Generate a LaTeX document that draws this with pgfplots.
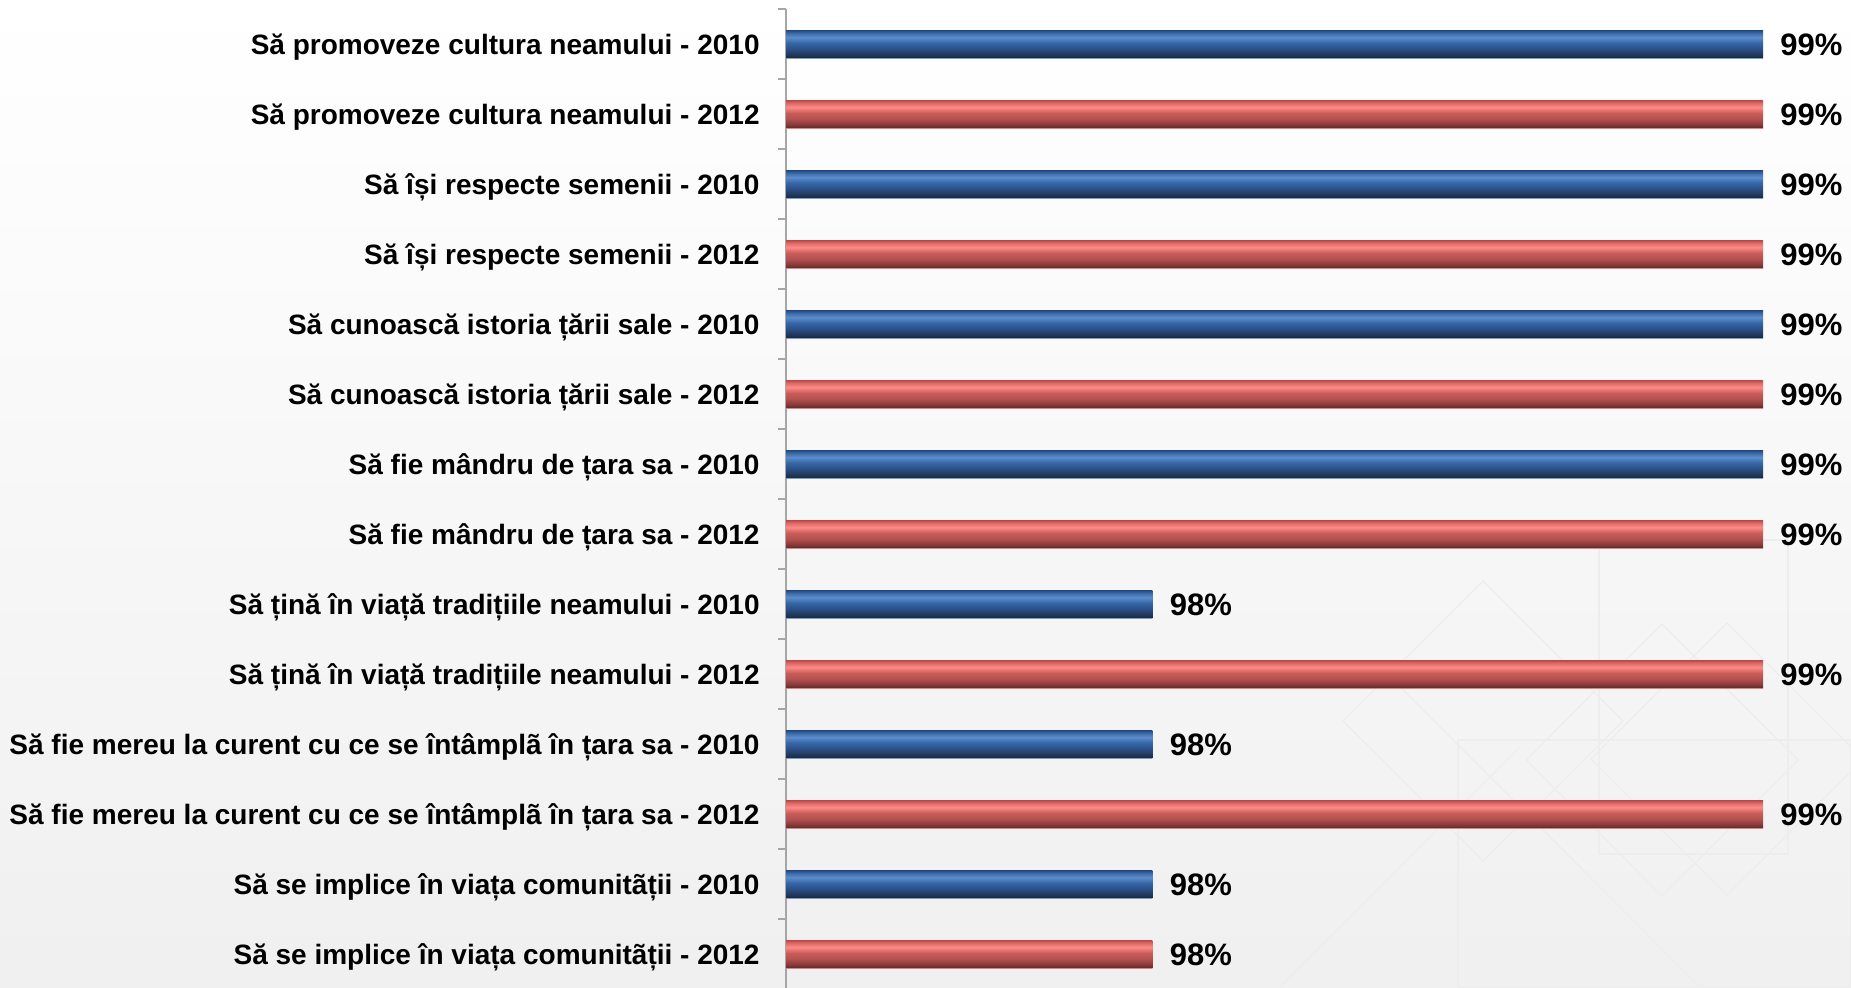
\documentclass[border=0pt]{standalone}
\usepackage{fontspec}
\setmainfont{Liberation Sans}
\usepackage{pgfplots}
\pgfplotsset{compat=1.18}

\definecolor{axisgray}{HTML}{A6A6A6}
% blue bar profile (bottom -> top)
\definecolor{bB0}{HTML}{7F9FCB}
\definecolor{bB1}{HTML}{1B2C48}
\definecolor{bB2}{HTML}{22395F}
\definecolor{bB3}{HTML}{2C5189}
\definecolor{bB4}{HTML}{3566A6}
\definecolor{bB5}{HTML}{5C8CCB}
\definecolor{bB6}{HTML}{3F6DAB}
\definecolor{bB7}{HTML}{20457C}
% red bar profile (bottom -> top)
\definecolor{rB0}{HTML}{D98A88}
\definecolor{rB1}{HTML}{6A2C2C}
\definecolor{rB2}{HTML}{8C3C3B}
\definecolor{rB3}{HTML}{B55250}
\definecolor{rB4}{HTML}{C95D5A}
\definecolor{rB5}{HTML}{FF8986}
\definecolor{rB6}{HTML}{E06E6B}
\definecolor{rB7}{HTML}{B84846}

\pgfdeclareverticalshading{barblue}{100bp}{color(0bp)=(bB0); color(25bp)=(bB0); color(26.5bp)=(bB1); color(32bp)=(bB2); color(42bp)=(bB3); color(52bp)=(bB4); color(62bp)=(bB5); color(69bp)=(bB6); color(75bp)=(bB7); color(100bp)=(bB7)}
\pgfdeclareverticalshading{barred}{100bp}{color(0bp)=(rB0); color(25bp)=(rB0); color(26.5bp)=(rB1); color(32bp)=(rB2); color(42bp)=(rB3); color(52bp)=(rB4); color(62bp)=(rB5); color(69bp)=(rB6); color(75bp)=(rB7); color(100bp)=(rB7)}

\pgfplotsset{
  bluebar/.style={shade, shading=barblue, draw=none, bar shift=0pt},
  redbar/.style={shade, shading=barred, draw=none, bar shift=0pt},
}

\begin{document}
\begin{tikzpicture}
\path[use as bounding box, top color=white, middle color=black!1, bottom color=black!6] (0,0) rectangle (925.5pt,493.5pt);
% faint background pattern
\begin{scope}[draw=black!7, line width=0.6pt]
\draw (741.5pt,203pt) -- (811.5pt,133pt) -- (741.5pt,63pt) -- (671.5pt,133pt) -- cycle;
\draw (831pt,181.5pt) -- (899pt,113.5pt) -- (831pt,45.5pt) -- (763pt,113.5pt) -- cycle;
\draw (863.5pt,182pt) -- (931.5pt,114pt) -- (863.5pt,46pt) -- (795.5pt,114pt) -- cycle;
\draw (700pt,150pt) -- (850pt,0pt);
\draw (640pt,0pt) -- (760pt,120pt);
\draw (729pt,0pt) rectangle (925.5pt,123.5pt);
\draw (799.5pt,66.5pt) rectangle (894pt,223.5pt);
\end{scope}
\begin{axis}[
  at={(393pt,489pt)}, anchor=north west,
  scale only axis, width=532.5pt, height=490pt,
  xmin=97.40, xmax=99.144,
  ymin=-0.5, ymax=13.5, y dir=reverse,
  axis x line=none,
  axis y line*=left,
  y axis line style={axisgray, line width=1pt, -},
  ytick={0,...,13},
  yticklabels={
    Să promoveze cultura neamului - 2010,
    Să promoveze cultura neamului - 2012,
    Să își respecte semenii - 2010,
    Să își respecte semenii - 2012,
    Să cunoască istoria țării sale - 2010,
    Să cunoască istoria țării sale - 2012,
    Să fie mândru de țara sa - 2010,
    Să fie mândru de țara sa - 2012,
    Să țină în viață tradițiile neamului - 2010,
    Să țină în viață tradițiile neamului - 2012,
    Să fie mereu la curent cu ce se întâmplã în țara sa - 2010,
    Să fie mereu la curent cu ce se întâmplã în țara sa - 2012,
    Să se implice în viața comunitãții - 2010,
    Să se implice în viața comunitãții - 2012},
  major tick length=0pt,
  minor ytick={-0.5,0.5,...,13.5},
  minor tick length=4pt,
  tick align=outside,
  minor y tick style={axisgray, line width=0.75pt},
  yticklabel style={font=\fontsize{14}{16}\selectfont\bfseries, inner sep=0pt, anchor=base east, xshift=-13pt, yshift=-5pt, text=black},
  xbar, bar width=14pt,
  point meta=x,
  nodes near coords={\pgfmathprintnumber[fixed,precision=0,assume math mode=true]{\pgfplotspointmeta}\%},
  nodes near coords style={font=\fontsize{15.5}{18}\selectfont\bfseries, anchor=base west, inner sep=0pt, xshift=8.5pt, yshift=-5.6pt, text=black},
]
% 2010 (blue) and 2012 (red), one bar per plot so each bar gets its own shading
\addplot[bluebar] coordinates {(99,0)};
\addplot[redbar]  coordinates {(99,1)};
\addplot[bluebar] coordinates {(99,2)};
\addplot[redbar]  coordinates {(99,3)};
\addplot[bluebar] coordinates {(99,4)};
\addplot[redbar]  coordinates {(99,5)};
\addplot[bluebar] coordinates {(99,6)};
\addplot[redbar]  coordinates {(99,7)};
\addplot[bluebar] coordinates {(98,8)};
\addplot[redbar]  coordinates {(99,9)};
\addplot[bluebar] coordinates {(98,10)};
\addplot[redbar]  coordinates {(99,11)};
\addplot[bluebar] coordinates {(98,12)};
\addplot[redbar]  coordinates {(98,13)};
\end{axis}
\end{tikzpicture}
\end{document}
